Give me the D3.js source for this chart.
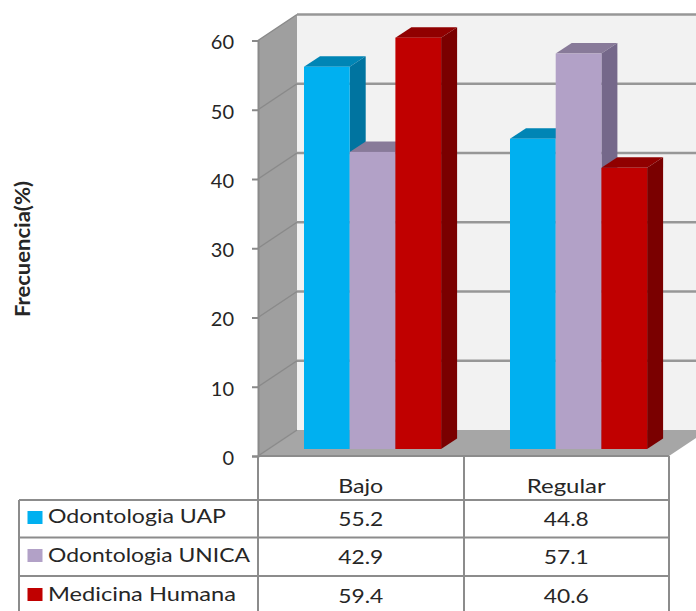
<!DOCTYPE html>
<html>
<head>
<meta charset="utf-8">
<script src="https://cdn.jsdelivr.net/npm/d3@7/dist/d3.min.js"></script>
<style>
  html, body { margin: 0; padding: 0; background: #fff; }
  svg { display: block; }
  text { font-family: Lato, "Open Sans", sans-serif; fill: #262626; }
</style>
</head>
<body>
<svg id="chart" width="696" height="611"></svg>
<script>
const categories = ["Bajo", "Regular"];
const seriesNames = ["Odontologia UAP", "Odontologia UNICA", "Medicina Humana"];
const uap = [55.2, 44.8];
const unica = [42.9, 57.1];
const medicina = [59.4, 40.6];
const yTicks = [0, 10, 20, 30, 40, 50, 60];
const faceColors = ["#00b0f0", "#b2a1c7", "#c00000"];
const topColors = ["#0085b5", "#887a99", "#900000"];
const sideColors = ["#0074a0", "#75688a", "#7a0000"];

const seriesValues = [uap, unica, medicina];
const svg = d3.select("#chart");

// Frame of the 3D box: front plane of the axis and the depth vector to the back wall
const frontLeft = 258, frontRight = 669, frontBase = 456, frontTop = 40.5;
const depthX = 39, depthY = -26;
const y = d3.scaleLinear().domain([0, 60]).range([frontBase, frontTop]);
const xGroup = d3.scaleBand().domain(categories).range([frontLeft, frontRight]);
const barWidth = 45.7, barDX = 16, barDY = -10.5, barLift = 7;
const pts = a => a.map(p => p.join(",")).join(" ");

// Back wall, left wall and floor
const walls = svg.append("g");
walls.append("polygon")
  .attr("points", pts([[frontLeft + depthX, frontTop + depthY], [frontRight + depthX, frontTop + depthY],
                       [frontRight + depthX, frontBase + depthY], [frontLeft + depthX, frontBase + depthY]]))
  .attr("fill", "#f2f2f2");
walls.append("polygon")
  .attr("points", pts([[frontLeft, frontTop], [frontLeft + depthX, frontTop + depthY],
                       [frontLeft + depthX, frontBase + depthY], [frontLeft, frontBase]]))
  .attr("fill", "#9f9f9f");
walls.append("polygon")
  .attr("points", pts([[frontLeft, frontBase], [frontLeft + depthX, frontBase + depthY],
                       [frontRight + depthX, frontBase + depthY], [frontRight, frontBase]]))
  .attr("fill", "#a6a6a6");

// Gridlines run across the back wall and down the left wall
const grid = walls.selectAll(".grid").data(yTicks).join("g").attr("class", "grid");
grid.filter(d => d > 0).append("line")
  .attr("x1", frontLeft + depthX).attr("x2", frontRight + depthX)
  .attr("y1", d => y(d) + depthY).attr("y2", d => y(d) + depthY)
  .attr("stroke", "#979797").attr("stroke-width", 2.4);
grid.append("line")
  .attr("x1", frontLeft).attr("x2", frontLeft + depthX)
  .attr("y1", d => y(d)).attr("y2", d => y(d) + depthY)
  .attr("stroke", "#8a8a8a").attr("stroke-width", 1.5);

// Bars: top and side faces first, then the front, left to right
categories.forEach((cat, c) => {
  const groupStart = c === 0 ? 304 - frontLeft : 510 - frontLeft - xGroup.step();
  const x0 = xGroup(cat) + groupStart;
  seriesValues.forEach((values, s) => {
    const left = x0 + s * barWidth, right = left + barWidth;
    const base = frontBase - barLift;
    const topY = base - (y(0) - y(values[c]));
    const g = svg.append("g");
    g.append("polygon")
      .attr("points", pts([[left, topY], [left + barDX, topY + barDY], [right + barDX, topY + barDY], [right, topY]]))
      .attr("fill", topColors[s]);
    g.append("polygon")
      .attr("points", pts([[right, topY], [right + barDX, topY + barDY], [right + barDX, base + barDY], [right, base]]))
      .attr("fill", sideColors[s]);
    g.append("rect")
      .attr("x", left).attr("y", topY)
      .attr("width", barWidth).attr("height", base - topY)
      .attr("fill", faceColors[s]);
  });
});

// Value axis
const axis = svg.append("g")
  .attr("transform", `translate(${frontLeft},0)`)
  .call(d3.axisLeft(y).tickValues(yTicks).tickSize(6).tickPadding(18));
axis.select(".domain").attr("stroke", "#8a8a8a").attr("stroke-width", 2);
axis.selectAll(".tick line").attr("stroke", "#8a8a8a").attr("stroke-width", 2);
axis.selectAll(".tick text")
  .attr("fill", "#262626").attr("dy", "0.42em")
  .style("font-family", "Lato, sans-serif").style("font-size", "20px");

svg.append("text")
  .attr("transform", "translate(30,249) rotate(-90)")
  .attr("text-anchor", "middle")
  .attr("textLength", 136).attr("lengthAdjust", "spacingAndGlyphs")
  .style("font-size", "20px").style("font-weight", 700)
  .text("Frecuencia(%)");

// Data table under the plot
const rowLines = [500, 537.5, 576];
const tableLeft = 19, tableBottom = 611, colMid = xGroup("Regular");
const rule = (x1, y1, x2, y2) => svg.append("line")
  .attr("x1", x1).attr("y1", y1).attr("x2", x2).attr("y2", y2)
  .attr("stroke", "#8c8c8c").attr("stroke-width", 2);
rule(frontLeft, frontBase, frontRight, frontBase);
rowLines.forEach(ly => rule(tableLeft, ly, frontRight, ly));
rule(tableLeft, rowLines[0], tableLeft, tableBottom);
rule(frontLeft, frontBase, frontLeft, tableBottom);
rule(colMid + 0.5, frontBase, colMid + 0.5, tableBottom);
rule(frontRight, frontBase, frontRight, tableBottom);

// Baselines of the header, the row labels and the row values
const headerBase = 493, labelBase = [523, 562, 601], valueBase = [526, 564, 603];
const swatchTop = [511, 549, 588];
const headerWidths = [45, 79], labelWidths = [178, 202, 188], valueWidth = 45;

categories.forEach((cat, c) => {
  svg.append("text")
    .attr("x", xGroup(cat) + xGroup.bandwidth() / 2 - headerWidths[c] / 2).attr("y", headerBase)
    .attr("textLength", headerWidths[c]).attr("lengthAdjust", "spacingAndGlyphs")
    .style("font-size", "20px").text(cat);
});
seriesNames.forEach((name, s) => {
  svg.append("rect")
    .attr("x", 27.5).attr("y", swatchTop[s])
    .attr("width", 15).attr("height", 13)
    .attr("fill", faceColors[s]);
  svg.append("text")
    .attr("x", 48).attr("y", labelBase[s])
    .attr("textLength", labelWidths[s]).attr("lengthAdjust", "spacingAndGlyphs")
    .style("font-size", "20px").text(name);
  categories.forEach((cat, c) => {
    svg.append("text")
      .attr("x", xGroup(cat) + xGroup.bandwidth() / 2 - valueWidth / 2).attr("y", valueBase[s])
      .attr("textLength", valueWidth).attr("lengthAdjust", "spacingAndGlyphs")
      .style("font-size", "20px").text(seriesValues[s][c].toFixed(1));
  });
});
</script>
</body>
</html>
